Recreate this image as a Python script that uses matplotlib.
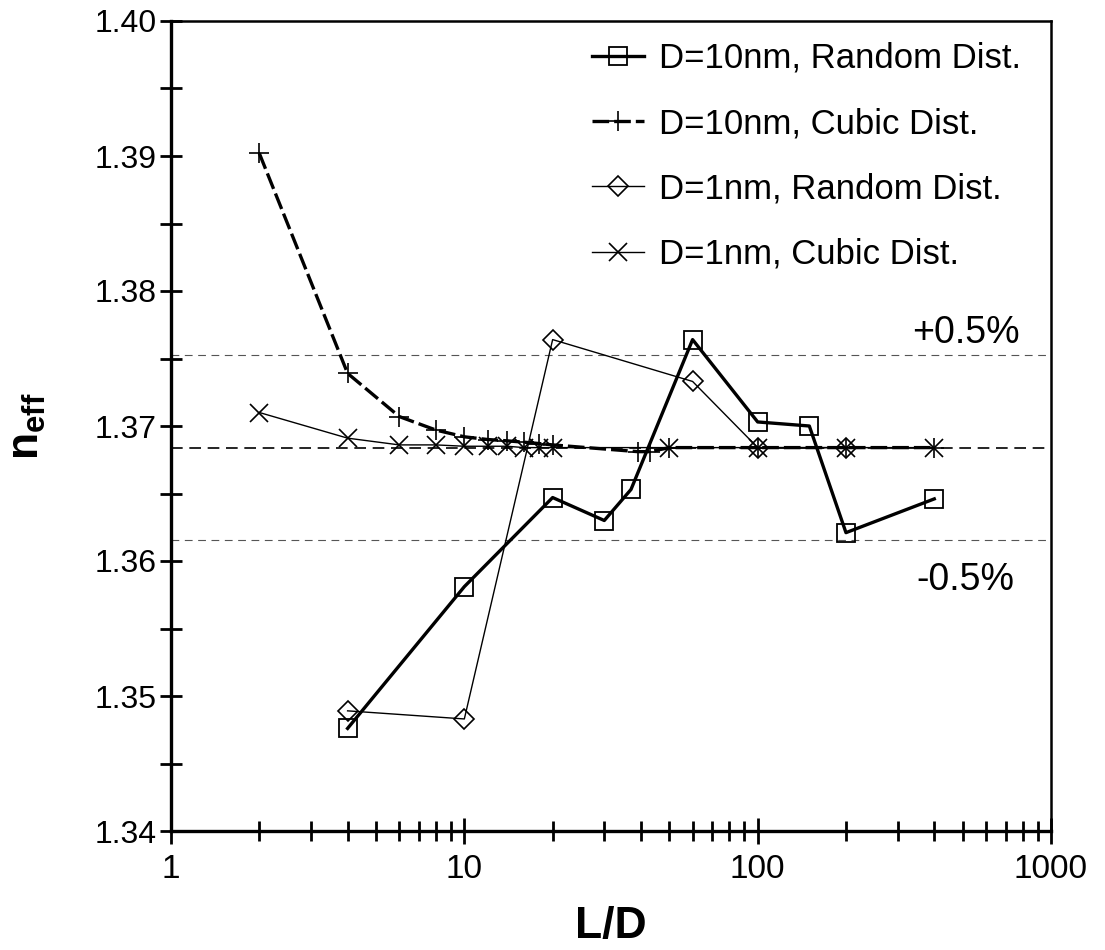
import matplotlib
matplotlib.use("Agg")
import matplotlib.pyplot as plt
from matplotlib.ticker import FixedLocator, NullFormatter, MultipleLocator, FuncFormatter
from matplotlib.transforms import blended_transform_factory

plt.rcParams['font.family'] = ['Liberation Sans', 'DejaVu Sans']

# ---- data ----
x_d10_rand = [4, 10, 20, 30, 37, 60, 100, 150, 200, 400]
y_d10_rand = [1.3476, 1.3581, 1.3647, 1.3630, 1.3653, 1.3764, 1.3703, 1.3700, 1.3621, 1.3646]

x_d10_cub = [2, 4, 6, 8, 10, 12, 14, 16, 18, 20, 39, 43, 50, 100, 200, 400]
y_d10_cub = [1.3902, 1.3739, 1.3707, 1.3697, 1.3692, 1.3690, 1.3689, 1.3688, 1.3687, 1.3686,
             1.3681, 1.3681, 1.3684, 1.3684, 1.3684, 1.3684]

x_d1_rand = [4, 10, 20, 60, 100, 200]
y_d1_rand = [1.3489, 1.3483, 1.3764, 1.3733, 1.3684, 1.3684]

x_d1_cub = [2, 4, 6, 8, 10, 12, 14, 16, 18, 20, 50, 100, 200, 400]
y_d1_cub = [1.3710, 1.3691, 1.3686, 1.3686, 1.3685, 1.3685, 1.3685, 1.3684, 1.3684, 1.3684,
            1.3684, 1.3684, 1.3684, 1.3684]

n_ref = 1.3684
labels = ["D=10nm, Random Dist.", "D=10nm, Cubic Dist.", "D=1nm, Random Dist.", "D=1nm, Cubic Dist."]
xtick_vals = [1, 10, 100, 1000]
xtick_labels = ["1", "10", "100", "1000"]

# ---- figure ----
fig = plt.figure(figsize=(11.05, 9.5), dpi=100)
ax = fig.add_axes([171/1105, 1-831/950, (1051-171)/1105, (831-21)/950])

ax.set_xscale('log')
ax.set_xlim(1, 1000)
ax.set_ylim(1.34, 1.40)

# reference lines
ax.axhline(n_ref, color='black', lw=1.2, ls=(0, (7, 4)), zorder=1)
ax.axhline(n_ref * 1.005, color='#555555', lw=0.8, ls=(0, (7, 5)), zorder=1)
ax.axhline(n_ref * 0.995, color='#555555', lw=0.8, ls=(0, (7, 5)), zorder=1)

ax.plot(x_d10_rand, y_d10_rand, color='black', lw=2.4, marker='s', ms=13,
        mfc='none', mec='black', mew=1.3, label=labels[0], zorder=3)
ax.plot(x_d10_cub, y_d10_cub, color='black', lw=2.4, ls=(0, (5, 1.5)), marker='+', ms=14,
        mec='black', mew=1.2, label=labels[1], zorder=3)
ax.plot(x_d1_rand, y_d1_rand, color='black', lw=1.0, marker='D', ms=10,
        mfc='none', mec='black', mew=1.2, label=labels[2], zorder=3)
ax.plot(x_d1_cub, y_d1_cub, color='black', lw=1.0, marker='x', ms=13,
        mec='black', mew=1.2, label=labels[3], zorder=3)

tr = blended_transform_factory(ax.transAxes, ax.transData)
ax.text(0.903, 1.3769, "+0.5%", fontsize=27, ha='center', va='center', transform=tr)
ax.text(0.903, 1.3586, "-0.5%", fontsize=27, ha='center', va='center', transform=tr)

# spines
for s in ['left', 'bottom']:
    ax.spines[s].set_linewidth(2.4)
for s in ['top', 'right']:
    ax.spines[s].set_linewidth(1.8)

# ticks
ax.yaxis.set_major_locator(MultipleLocator(0.01))
ax.yaxis.set_minor_locator(MultipleLocator(0.005))
ax.yaxis.set_major_formatter(FuncFormatter(lambda v, p: f"{v:.2f}"))
ax.xaxis.set_major_locator(FixedLocator(xtick_vals))
ax.set_xticklabels(xtick_labels)
ax.xaxis.set_minor_locator(FixedLocator([m * 10**e for e in range(0, 3) for m in range(2, 10)]))
ax.xaxis.set_minor_formatter(NullFormatter())

ax.tick_params(axis='y', which='both', direction='inout', length=16, width=2.0,
               labelsize=23, pad=2, right=False)
ax.tick_params(axis='x', which='major', direction='inout', length=19, width=2.0,
               labelsize=24, pad=7, top=False)
ax.tick_params(axis='x', which='minor', direction='inout', length=15, width=2.0, top=False)

ax.set_xlabel("L/D", fontsize=32, fontweight='bold', labelpad=15)
ax.set_ylabel("n$_{\\mathregular{eff}}$", fontsize=32, fontweight='bold', labelpad=34)

leg = ax.legend(loc='upper right', frameon=False, fontsize=25, handlelength=1.5,
                labelspacing=0.93, handletextpad=0.45, borderaxespad=0.2,
                bbox_to_anchor=(0.99, 1.0))

fig.savefig("out.png", dpi=100)
